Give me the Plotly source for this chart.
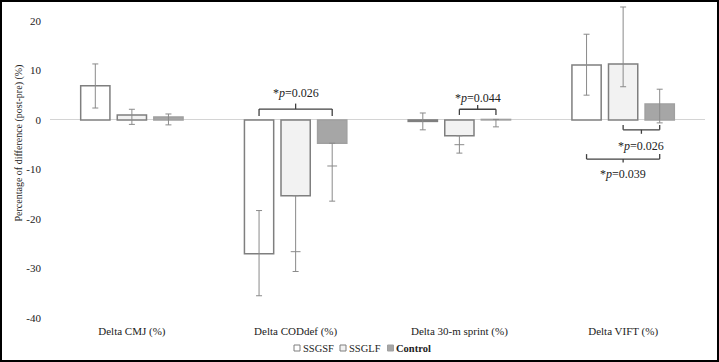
import plotly.graph_objects as go

categories = ["Delta CMJ (%)", "Delta CODdef (%)", "Delta 30-m sprint (%)", "Delta VIFT (%)"]
series_names = ["SSGSF", "SSGLF", "Control"]
y_tick_values = [-40, -30, -20, -10, 0, 10, 20]
y_tick_labels = ["-40", "-30", "-20", "-10", "0", "10", "20"]

ssgsf = [6.9, -27.0, -0.3, 11.1]
ssgsf_plus = [4.4, 8.7, 1.7, 6.2]
ssgsf_minus = [4.5, 8.5, 1.7, 6.1]
ssgsf_inner = [None, None, None, None]

ssglf = [1.0, -15.3, -3.2, 11.3]
ssglf_plus = [1.15, 0.0, 0.0, 11.5]
ssglf_minus = [1.9, 15.3, 3.5, 4.6]
ssglf_inner = [None, -26.6, -5.0, None]

control = [0.6, -4.7, 0.1, 3.2]
control_plus = [0.6, 0.0, 0.0, 3.0]
control_minus = [1.6, 11.7, 1.5, 3.8]
control_inner = [None, -9.3, None, None]

# significance brackets: (category index, from series, to series, bracket y, end y, tip y, label y, label)
brackets = [
    (1, 0, 2, 2.2, 0.8, 3.3, 5.4, "*<i>p</i>=0.026"),
    (2, 1, 2, 2.15, 1.0, 3.0, 4.4, "*<i>p</i>=0.044"),
    (3, 1, 2, -2.0, -1.0, -2.8, -5.2, "*<i>p</i>=0.026"),
    (3, 0, 2, -7.9, -6.9, -8.6, -10.9, "*<i>p</i>=0.039"),
]

values = [ssgsf, ssglf, control]
plus = [ssgsf_plus, ssglf_plus, control_plus]
minus = [ssgsf_minus, ssglf_minus, control_minus]
inner = [ssgsf_inner, ssglf_inner, control_inner]
fills = ["#ffffff", "#f2f2f2", "#a6a6a6"]
outlines = ["#7f7f7f", "#7f7f7f", "#a0a0a0"]
err_col = "#8a8a8a"
FONT = "Liberation Serif"
BARGAP = 0.33

fig = go.Figure()
for i, name in enumerate(series_names):
    fig.add_trace(go.Bar(
        x=categories, y=values[i], name=name,
        offsetgroup=str(i), cliponaxis=False, showlegend=False,
        marker=dict(color=fills[i], line=dict(color=outlines[i], width=1.5)),
        error_y=dict(type="data", symmetric=False, array=plus[i], arrayminus=minus[i],
                     color=err_col, thickness=1, width=3),
    ))
for i, name in enumerate(series_names):
    fig.add_trace(go.Scatter(
        x=categories, y=inner[i], mode="markers", offsetgroup=str(i), showlegend=False,
        cliponaxis=False, hoverinfo="skip",
        marker=dict(symbol="line-ew", size=7, line=dict(color=err_col, width=1)),
    ))

slot = (1 - BARGAP) / 3
def xpos(g, j):
    return g + (j - 1) * slot

W, H = 719, 362
L, R, T, B = 50, 14, 6, 39
pw, ph = W - L - R, H - T - B
def px_x(x):
    return (x - L) / pw
def px_y(y):
    return (H - B - y) / ph

shapes = []
annotations = []
lc = dict(color="#404040", width=1.3)
for g, a, b, yb, ye, yt, yl, lab in brackets:
    xa, xb = xpos(g, a), xpos(g, b)
    xm = (xa + xb) / 2
    shapes.append(dict(type="line", x0=xa, x1=xb, y0=yb, y1=yb, xref="x", yref="y", line=lc))
    shapes.append(dict(type="line", x0=xa, x1=xa, y0=ye, y1=yb, xref="x", yref="y", line=lc))
    shapes.append(dict(type="line", x0=xb, x1=xb, y0=ye, y1=yb, xref="x", yref="y", line=lc))
    shapes.append(dict(type="line", x0=xm, x1=xm, y0=yb, y1=yt, xref="x", yref="y", line=lc))
    annotations.append(dict(x=xm, y=yl, xref="x", yref="y", text=lab, showarrow=False,
                            xanchor="center", yanchor="middle",
                            font=dict(family=FONT, size=12, color="#222")))

# outer frame
shapes.append(dict(type="rect", xref="paper", yref="paper",
                   x0=px_x(1), x1=px_x(W - 1), y0=px_y(H - 1), y1=px_y(1),
                   line=dict(color="#000", width=2), layer="above"))
# y-axis title
annotations.append(dict(text="Percentage of difference (post-pre) (%)", textangle=-90,
                        xref="paper", yref="paper", x=px_x(18), y=px_y(143.5),
                        xanchor="center", yanchor="middle",
                        showarrow=False, font=dict(family=FONT, size=10, color="#222")))
# compact legend
legend_x = [294, 340, 387.5]
legend_y = 348
for i, name in enumerate(series_names):
    x0 = legend_x[i]
    shapes.append(dict(type="rect", xref="paper", yref="paper",
                       x0=px_x(x0), x1=px_x(x0 + 6), y0=px_y(legend_y + 3), y1=px_y(legend_y - 3),
                       fillcolor=fills[i], line=dict(color=outlines[i], width=1)))
    annotations.append(dict(text=("<b>%s</b>" % name) if name == "Control" else name,
                            xref="paper", yref="paper", x=px_x(x0 + 7), y=px_y(legend_y),
                            xanchor="left", yanchor="middle", showarrow=False,
                            font=dict(family=FONT, size=10.5, color="#222")))

fig.update_layout(
    width=W, height=H, margin=dict(l=L, r=R, t=T, b=B, autoexpand=False),
    paper_bgcolor="white", plot_bgcolor="white",
    barmode="group", bargap=BARGAP, bargroupgap=0.2,
    scattermode="group", scattergap=BARGAP,
    font=dict(family=FONT, size=11, color="#222"),
    shapes=shapes, annotations=annotations,
    showlegend=False,
)
fig.update_xaxes(showline=False, showgrid=False, ticks="", tickfont=dict(family=FONT, size=11),
                 ticklabelstandoff=0, automargin=False)
fig.update_yaxes(range=[-41, 23], tickvals=y_tick_values, ticktext=y_tick_labels, showgrid=False,
                 zeroline=True, zerolinecolor="#d4d4d4", zerolinewidth=1, showline=False,
                 ticks="", ticklabelstandoff=8, tickfont=dict(family=FONT, size=11), automargin=False)

fig.write_html("out.html", config={"displayModeBar": False},
               post_script="document.body.style.margin='0';document.body.style.overflow='hidden';")
